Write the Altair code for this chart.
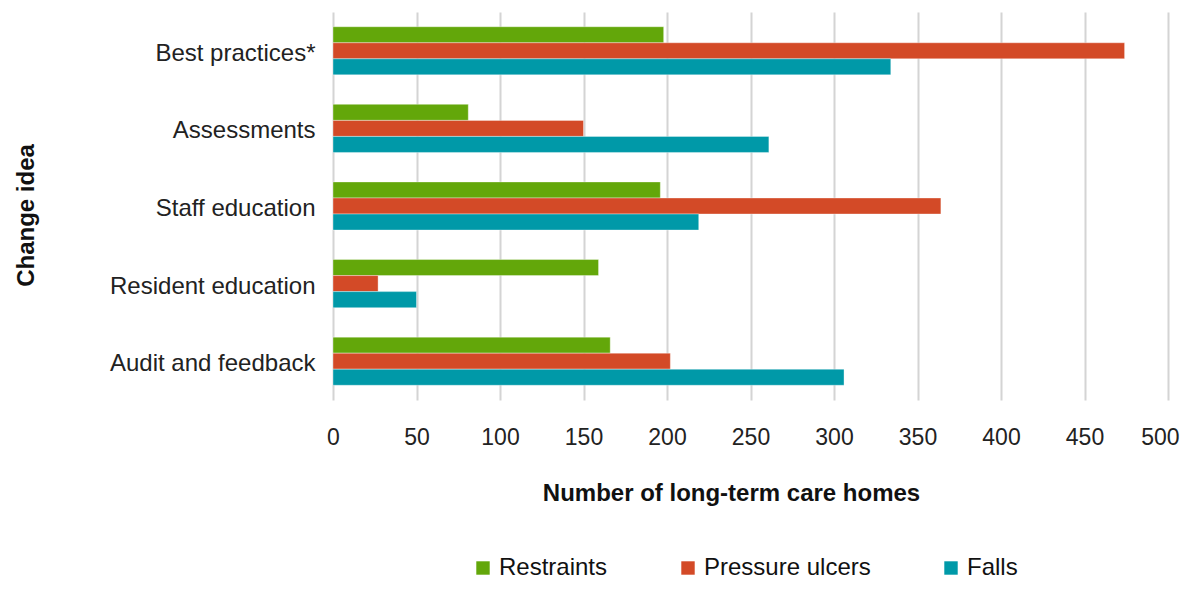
import altair as alt
import pandas as pd

ideas = ["Best practices*", "Assessments", "Staff education", "Resident education", "Audit and feedback"]
series = ["Restraints", "Pressure ulcers", "Falls"]
restraints = [198, 81, 196, 159, 166]
pressure_ulcers = [474, 150, 364, 27, 202]
falls = [334, 261, 219, 50, 306]
colors = ["#63a70a", "#d34a27", "#0099a8"]
x_ticks = [0, 50, 100, 150, 200, 250, 300, 350, 400, 450, 500]

rows = []
for s, vals in zip(series, [restraints, pressure_ulcers, falls]):
    for idea, v in zip(ideas, vals):
        rows.append({"idea": idea, "series": s, "value": v})
df = pd.DataFrame(rows)

FONT = "Liberation Sans"

chart = alt.Chart(df).mark_bar(stroke="white", strokeWidth=0.6, strokeOpacity=0.6).encode(
    x=alt.X("value:Q",
            scale=alt.Scale(domain=[0, 500], nice=False),
            axis=alt.Axis(values=x_ticks, title="Number of long-term care homes",
                          grid=True, gridColor="#d4d4d4", gridWidth=2,
                          domain=False, ticks=False, labelPadding=26, labelFlush=False,
                          labelAlign=alt.condition("datum.value == 500", alt.value("right"), alt.value("center")),
                          labelOffset=alt.condition("datum.value == 500", alt.value(11), alt.value(0)),
                          labelFontSize=23, labelColor="#222222", labelFont=FONT,
                          titleFontSize=24, titleFont=FONT, titleFontWeight="bold",
                          titleColor="#111111", titlePadding=32, titleX=398)),
    y=alt.Y("idea:N", sort=ideas,
            scale=alt.Scale(paddingInner=0.38, paddingOuter=0.19),
            axis=alt.Axis(title="Change idea", domain=False, ticks=False,
                          labelPadding=18, labelFontSize=24, labelColor="#222222",
                          labelFont=FONT, labelLimit=400, labelOffset=3,
                          titleFontSize=24, titleFont=FONT, titleFontWeight="bold",
                          titleColor="#111111", titlePadding=95, titleY=203)),
    yOffset=alt.YOffset("series:N", sort=series),
    color=alt.Color("series:N", sort=series,
                    scale=alt.Scale(domain=series, range=colors),
                    legend=alt.Legend(title=None, orient="none", legendX=138, legendY=544,
                                      direction="horizontal", columns=3,
                                      symbolType="square", symbolSize=180,
                                      symbolStrokeWidth=0, labelFontSize=24,
                                      labelFont=FONT, labelColor="#111111", labelLimit=400,
                                      columnPadding=68, labelOffset=4)),
).properties(
    width=835, height=388,
    autosize=alt.AutoSizeParams(type="none"),
    padding={"left": 325, "top": 4, "right": 12, "bottom": 181},
).configure_view(stroke=None)

chart.save("out.html", embed_options={"renderer": "svg", "actions": False})
